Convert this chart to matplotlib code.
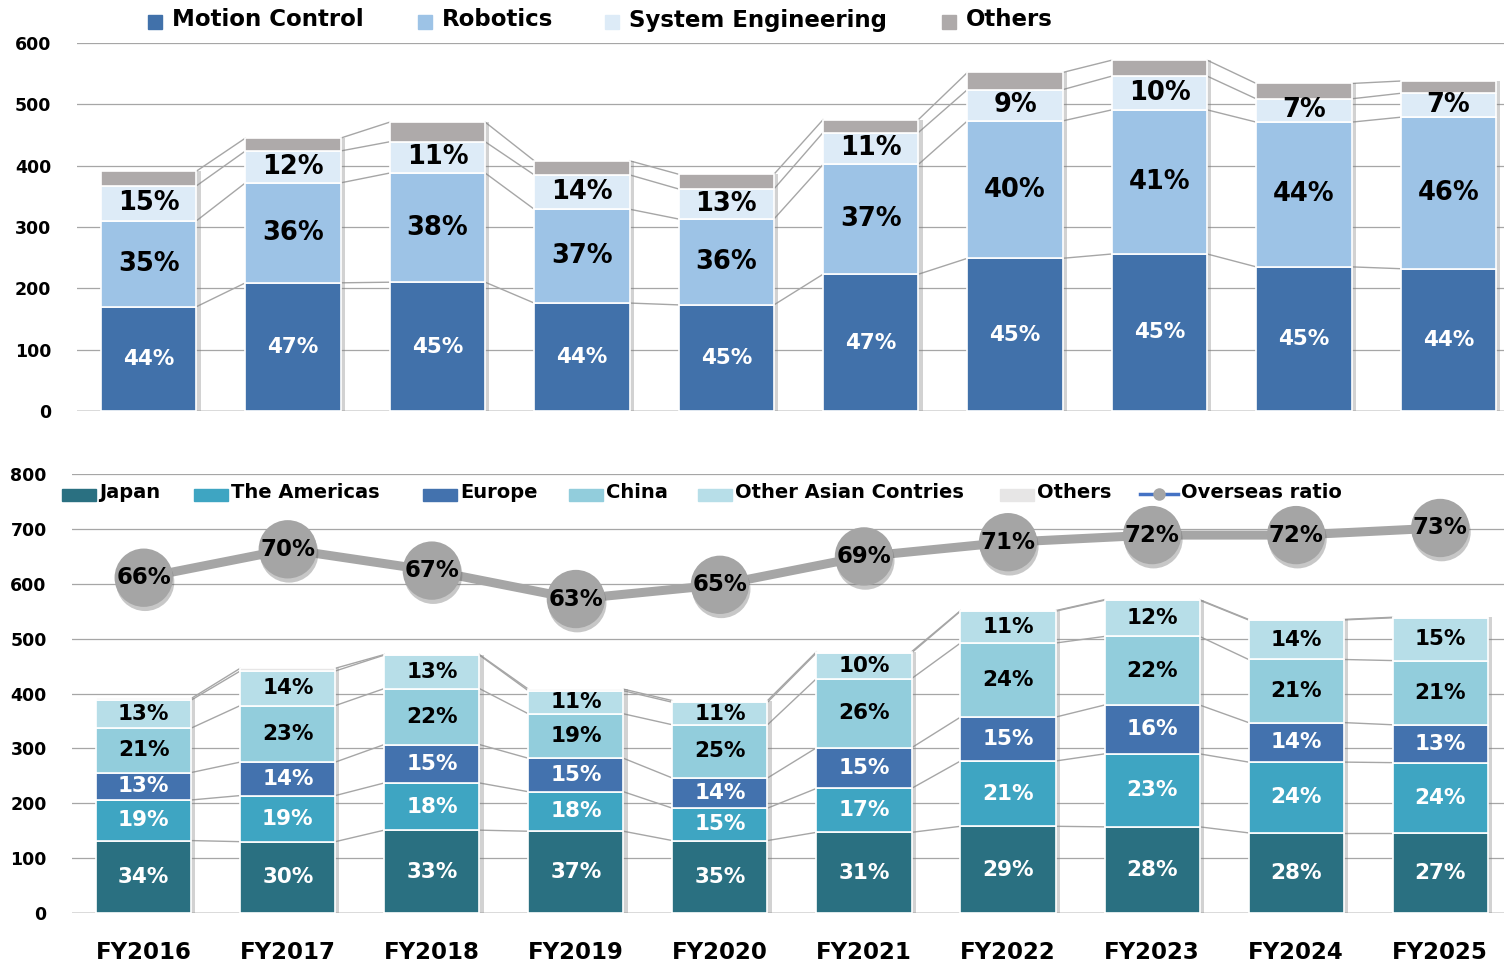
import numpy as np
import matplotlib.pyplot as plt
import matplotlib.patheffects as pe
from matplotlib.patches import Rectangle
from matplotlib.lines import Line2D

plt.rcParams['font.family'] = ['DejaVu Sans']
plt.rcParams['font.weight'] = 'bold'

years = ['FY2016', 'FY2017', 'FY2018', 'FY2019', 'FY2020',
         'FY2021', 'FY2022', 'FY2023', 'FY2024', 'FY2025']

# sales by segment (upper chart)
motion = [170, 209, 210, 176, 173, 223, 249, 256, 235, 232]
robotics = [140, 163, 178, 153, 140, 179, 224, 235, 236, 247]
sys_eng = [57, 52, 51, 56, 49, 52, 51, 55, 38, 39]
others_seg = [24, 21, 32, 23, 24, 21, 28, 26, 25, 20]

motion_pct = [44, 47, 45, 44, 45, 47, 45, 45, 45, 44]
robotics_pct = [35, 36, 38, 37, 36, 37, 40, 41, 44, 46]
sys_eng_pct = [15, 12, 11, 14, 13, 11, 9, 10, 7, 7]

# sales by region (lower chart)
japan = [132, 130, 151, 149, 132, 147, 158, 157, 146, 146]
americas = [74, 84, 86, 72, 59, 80, 119, 133, 129, 128]
europe = [50, 61, 70, 61, 55, 74, 80, 89, 72, 69]
china = [81, 103, 102, 81, 97, 126, 135, 125, 115, 117]
other_asia = [51, 63, 61, 42, 41, 47, 58, 66, 72, 78]
others_reg = [3, 5, 1, 3, 3, 2, 1, 1, 1, 1]

japan_pct = [34, 30, 33, 37, 35, 31, 29, 28, 28, 27]
americas_pct = [19, 19, 18, 18, 15, 17, 21, 23, 24, 24]
europe_pct = [13, 14, 15, 15, 14, 15, 15, 16, 14, 13]
china_pct = [21, 23, 22, 19, 25, 26, 24, 22, 21, 21]
other_asia_pct = [13, 14, 13, 11, 11, 10, 11, 12, 14, 15]

overseas = [66, 70, 67, 63, 65, 69, 71, 72, 72, 73]

# colours
C_MC, C_ROB, C_SE, C_OTH = '#4171AA', '#9DC3E6', '#DDEBF7', '#AEAAAA'
C_JP, C_AM, C_EU, C_CN, C_OA, C_OR = '#2A7081', '#3EA5C2', '#4372AE', '#92CDDC', '#B7DEE8', '#E7E6E6'
GRID = '#A6A6A6'
W = 0.66

W_PX, H_PX = 1504, 961
fig = plt.figure(figsize=(W_PX / 100, H_PX / 100), dpi=100)


def fx(px):
    return px / W_PX


def fy(py):
    return 1 - py / H_PX


ax1 = fig.add_axes([fx(76.5), fy(411), 1444 / W_PX, 368 / H_PX])
ax2 = fig.add_axes([fx(71.7), fy(913), 1440.5 / W_PX, 439 / H_PX])

bar_shadow = [pe.SimplePatchShadow(offset=(3, 0), shadow_rgbFace='#808080', alpha=0.35), pe.Normal()]


def stacked(ax, series, colors, pcts, txt_colors, txt_size):
    x = np.arange(len(years))
    bottom = np.zeros(len(years))
    for vals, col, p, tc in zip(series, colors, pcts, txt_colors):
        bars = ax.bar(x, vals, W, bottom=bottom, color=col, edgecolor='white',
                      linewidth=1.2, zorder=3, path_effects=bar_shadow)
        if p is not None:
            ax.bar_label(bars, labels=[f'{v}%' for v in p], label_type='center',
                         color=tc, fontsize=txt_size[tc], fontweight='bold', zorder=6)
        bottom = bottom + np.array(vals)
        # series lines between bars
        for i in range(len(x) - 1):
            ax.plot([x[i] + W / 2, x[i + 1] - W / 2], [bottom[i], bottom[i + 1]],
                    color=GRID, lw=1, zorder=2)


stacked(ax1, [motion, robotics, sys_eng, others_seg], [C_MC, C_ROB, C_SE, C_OTH],
        [motion_pct, robotics_pct, sys_eng_pct, None], ['white', 'black', 'black', 'black'],
        {'white': 15.5, 'black': 18.5})
stacked(ax2, [japan, americas, europe, china, other_asia, others_reg],
        [C_JP, C_AM, C_EU, C_CN, C_OA, C_OR],
        [japan_pct, americas_pct, europe_pct, china_pct, other_asia_pct, None],
        ['white', 'white', 'white', 'black', 'black', 'black'],
        {'white': 15.5, 'black': 15.5})

for ax in (ax1, ax2):
    for s in ax.spines.values():
        s.set_visible(False)
    ax.set_axisbelow(True)
    ax.yaxis.grid(True, color=GRID, lw=0.9)
    ax.tick_params(axis='y', length=0, pad=18, labelsize=12.5)
    ax.set_xlim(-0.5, 9.5)
    ax.axhline(0, color='#D9D9D9', lw=2, zorder=1)

ax1.set_ylim(0, 600)
ax1.set_yticks(range(0, 601, 100))
ax1.set_xticks([])

ax2.set_ylim(0, 800)
ax2.set_yticks(range(0, 801, 100))
ax2.set_xticks(np.arange(len(years)))
ax2.set_xticklabels(years, fontsize=16.5, fontweight='bold')
ax2.tick_params(axis='x', length=0, pad=20)

# overseas ratio on a hidden secondary axis
ax3 = ax2.twinx()
ax3.set_ylim(18.8, 80.6)
ax3.set_xlim(-0.5, 9.5)
ax3.axis('off')
xr = np.arange(len(years))
ax3.plot(xr, overseas, color='#A6A6A6', lw=6.5, zorder=3)
ax3.plot(xr, overseas, ls='none', marker='o', ms=42, mfc='#A5A5A5', mec='none', zorder=4,
         path_effects=[pe.SimplePatchShadow(offset=(1, -3), shadow_rgbFace='#606060', alpha=0.35),
                       pe.Normal()])
for xi, v in zip(xr, overseas):
    ax3.text(xi, v, f'{v}%', ha='center', va='center', fontsize=16.5,
             fontweight='bold', color='black', zorder=5)

# upper legend
top_leg = [('Motion Control', C_MC, 148), ('Robotics', C_ROB, 418),
           ('System Engineering', C_SE, 605), ('Others', C_OTH, 942)]
for name, col, px in top_leg:
    fig.add_artist(Rectangle((fx(px), fy(29)), 14 / W_PX, 14 / H_PX,
                             transform=fig.transFigure, color=col))
    fig.text(fx(px + 24), fy(20), name, fontsize=16.5, fontweight='bold', va='center')

# lower legend
bot_leg = [('Japan', C_JP, 62), ('The Americas', C_AM, 194), ('Europe', C_EU, 423),
           ('China', C_CN, 569), ('Other Asian Contries', C_OA, 698), ('Others', C_OR, 1000)]
for name, col, px in bot_leg:
    fig.add_artist(Rectangle((fx(px), fy(501)), 34 / W_PX, 12 / H_PX,
                             transform=fig.transFigure, color=col))
    fig.text(fx(px + 37), fy(492), name, fontsize=14, fontweight='bold', va='center')

fig.add_artist(Line2D([fx(1140), fx(1178)], [fy(494), fy(494)], color='#4472C4', lw=2.5,
                      transform=fig.transFigure))
fig.add_artist(Line2D([fx(1159)], [fy(494)], marker='o', ms=9, mfc='#A5A5A5', mec='none',
                      transform=fig.transFigure))
fig.text(fx(1181), fy(492), 'Overseas ratio', fontsize=14, fontweight='bold', va='center')

fig.savefig('out.png', dpi=100)
